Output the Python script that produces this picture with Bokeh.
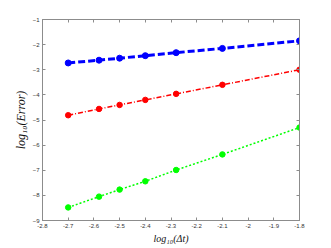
from bokeh.plotting import figure
from bokeh.models import LinearAxis, FixedTicker, CustomJSTickFormatter, Range1d, CustomLabelingPolicy
from bokeh.embed import file_html
from bokeh.resources import INLINE

# data
log_dt = [-2.70, -2.58, -2.50, -2.40, -2.28, -2.10, -1.80]
err_blue = [-2.73, -2.62, -2.54, -2.44, -2.32, -2.15, -1.85]
err_red = [-4.81, -4.56, -4.40, -4.20, -3.96, -3.60, -3.00]
err_green = [-8.48, -8.05, -7.77, -7.44, -6.99, -6.37, -5.30]

x_ticks = [-2.8, -2.7, -2.6, -2.5, -2.4, -2.3, -2.2, -2.1, -2.0, -1.9, -1.8]
y_ticks = [-9, -8, -7, -6, -5, -4, -3, -2, -1]
x_label = "log\u2081\u2080(\u0394t)"
y_label = "log\u2081\u2080(Error)"

p = figure(width=331, height=248, output_backend="svg", toolbar_location=None,
           x_range=Range1d(-2.8, -1.8), y_range=Range1d(-9, -1),
           min_border_left=42, min_border_top=19, min_border_right=32, min_border_bottom=28)
p.grid.visible = False
p.outline_line_color = "#8c8c8c"
p.background_fill_color = "white"
p.border_fill_color = "white"

fmt = CustomJSTickFormatter(code="var s = tick.toFixed(1); if (s.endsWith('.0')) s = s.slice(0, -2); return s;")

def style(ax, labels=True):
    ax.axis_line_color = "#8c8c8c"
    ax.major_tick_line_color = "#8c8c8c"
    ax.major_tick_in = 3
    ax.major_tick_out = 0
    ax.minor_tick_line_color = None
    ax.major_label_text_font = "Liberation Sans"
    ax.major_label_text_font_size = "6px"
    ax.major_label_text_color = "#333333"
    ax.major_label_standoff = 3

style(p.xaxis[0])
style(p.yaxis[0])
p.xaxis[0].ticker = FixedTicker(ticks=x_ticks)
p.xaxis[0].formatter = fmt
p.yaxis[0].ticker = FixedTicker(ticks=y_ticks)
p.xaxis[0].axis_label = x_label
p.yaxis[0].axis_label = y_label
for ax, sz in ((p.xaxis[0], "10px"), (p.yaxis[0], "12px")):
    ax.axis_label_text_font = "Liberation Serif"
    ax.axis_label_text_font_style = "italic"
    ax.axis_label_text_font_size = sz
    ax.axis_label_text_color = "#111111"
    ax.axis_label_standoff = 2

no_labels = CustomLabelingPolicy(code="""
try { for (const i of Array.from(indices)) { indices.unset(i) } } catch (e) {}
return indices
""")
top = LinearAxis(ticker=FixedTicker(ticks=x_ticks), major_label_policy=no_labels)
right = LinearAxis(ticker=FixedTicker(ticks=y_ticks), major_label_policy=no_labels)
for ax in (top, right):
    style(ax)
    ax.major_label_standoff = 0
p.add_layout(top, "above")
p.add_layout(right, "right")

p.line(log_dt, err_blue, color="#0000ff", line_width=3, line_dash="7 3")
p.scatter(log_dt, err_blue, color="#0000ff", size=6)
p.line(log_dt, err_red, color="#ff0000", line_width=1.5, line_dash="5 2 1 2")
p.scatter(log_dt, err_red, color="#ff0000", size=5.5)
p.line(log_dt, err_green, color="#00ff00", line_width=1.5, line_dash="2 2")
p.scatter(log_dt, err_green, color="#00ff00", size=5.5)

open("out.html", "w").write(file_html(p, INLINE))
